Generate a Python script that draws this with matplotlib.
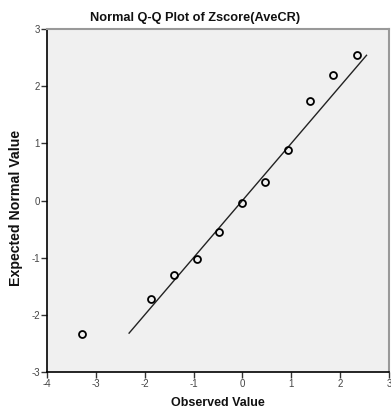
import matplotlib
matplotlib.use("Agg")
import matplotlib.pyplot as plt

observed = [-3.28, -1.88, -1.41, -0.94, -0.47, 0.0, 0.47, 0.93, 1.39, 1.86, 2.34]
expected = [-2.33, -1.73, -1.30, -1.02, -0.55, -0.04, 0.33, 0.89, 1.74, 2.19, 2.54]
line_x = [-2.32, 2.54]
line_y = [-2.32, 2.54]
xticks = [-4, -3, -2, -1, 0, 1, 2, 3]
yticks = [-3, -2, -1, 0, 1, 2, 3]

plt.rcParams['font.family'] = ['Liberation Sans', 'DejaVu Sans']
plt.rcParams['axes.unicode_minus'] = False
fig = plt.figure(figsize=(3.91, 4.12), dpi=100)
ax = fig.add_axes([47/391, 40/412, 342/391, 343/412])
ax.set_facecolor('#F0F0F0')

ax.plot(line_x, line_y, color='#222222', lw=1.0, zorder=2)
ax.plot(observed, expected, linestyle='none', marker='o', markersize=5,
        markerfacecolor='none', markeredgecolor='black', markeredgewidth=1.3, zorder=3)

ax.set_xlim(-4, 3)
ax.set_ylim(-3, 3)
ax.set_xticks(xticks)
ax.set_yticks(yticks)
ax.tick_params(axis='both', direction='out', length=4, width=1, labelsize=7, pad=1,
               color='#333333', labelcolor='#444444')

for s in ['left', 'bottom']:
    ax.spines[s].set_color('black')
    ax.spines[s].set_linewidth(1.2)
for s in ['top', 'right']:
    ax.spines[s].set_color('#999999')
    ax.spines[s].set_linewidth(1.5)

fig.text(0.5, 1 - 18/412, 'Normal Q-Q Plot of Zscore(AveCR)', fontsize=9.2, fontweight='bold',
         ha='center', va='center', color='#111111')
ax.set_xlabel('Observed Value', fontsize=9, fontweight='bold', labelpad=6, color='#111111')
ax.set_ylabel('Expected Normal Value', fontsize=10.2, fontweight='bold', color='#111111')
ax.yaxis.set_label_coords(-0.07, 0.478)

fig.savefig('out.png', dpi=100, facecolor='white')
